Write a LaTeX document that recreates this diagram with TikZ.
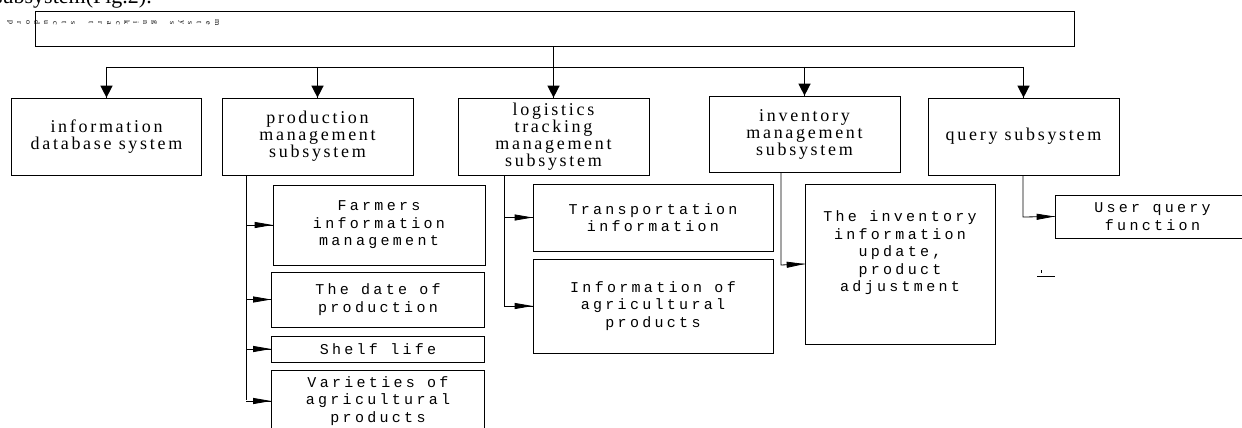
\documentclass[tikz,border=0pt]{standalone}
\usepackage{fontspec}
\setmainfont{Liberation Serif}
\newfontfamily\boxserif[LetterSpace=15]{Liberation Serif}
\newfontfamily\boxmono[LetterSpace=22]{Liberation Mono}
\usetikzlibrary{arrows.meta,decorations.markings}

\begin{document}
\begin{tikzpicture}[x=1pt, y=-1pt,
  unit/.style={draw, line width=0.7pt, inner sep=0pt, align=center, font=\boxserif\fontsize{18}{17}\selectfont},
  leaf/.style={draw, line width=0.7pt, inner sep=0pt, align=center, font=\boxmono\fontsize{15}{17.5}\selectfont},
  down/.style={line width=1.4pt, decoration={markings,mark=at position 1 with {\arrow{Triangle[length=12pt,width=12pt]}}}, postaction={decorate}},
  side/.style={line width=0.8pt, decoration={markings,mark=at position 1 with {\arrow{Triangle[length=18pt,width=6pt]}}}, postaction={decorate}}]
\useasboundingbox (0,0) rectangle (1242,428);
\clip (0,0) rectangle (1242,428);

\node[anchor=base east, inner sep=0pt, font=\fontsize{22}{24}\selectfont] (caption) at (152,4) {subsystem(Fig.2).};

% top box and its tiny turned label
\node[draw, line width=0.7pt, minimum width=1039pt, minimum height=35pt] (sys) at (554.5,28.5) {};
\foreach \ch [count=\i] in {p,r,o,d,u,c,t,s,{},t,r,a,c,k,i,n,g,{},s,y,s,t,e,m,{},{}}
  \node[rotate=-90, inner sep=0pt, font=\fontsize{8}{8}\selectfont] (g\i) at (\i*9+1,23) {\ch};

% subsystems
\node[unit, minimum width=190pt, minimum height=77pt] (db) at (106.5,136.5) {information\\database system};
\node[unit, minimum width=191pt, minimum height=77pt] (prod) at (317.5,136.5) {production\\management\\subsystem};
\node[unit, minimum width=191pt, minimum height=77pt] (logi) at (553.5,136.5) {logistics\\tracking\\management\\subsystem};
\node[unit, minimum width=191pt, minimum height=76pt] (inv) at (804.5,134) {inventory\\management\\subsystem};
\node[unit, minimum width=191pt, minimum height=77pt] (query) at (1023.5,136.5) {query subsystem};

\coordinate (busL) at (107,67);
\coordinate (busR) at (1024,67);
\draw[line width=0.8pt] (busL) -- (busR);
\draw[down] (sys.south -| logi) -- (logi.north);
\foreach \n in {db,prod,inv,query}
  \draw[down] (busL -| \n) -- (\n.north);

% production
\node[leaf, minimum width=212pt, minimum height=80pt] (farm) at (379,225) {Farmers\\information\\management};
\node[leaf, minimum width=213pt, minimum height=55pt] (date) at (378,299.5) {The date of\\production};
\node[leaf, minimum width=213pt, minimum height=26pt] (shelf) at (378,349) {Shelf life};
\node[leaf, minimum width=213pt, minimum height=62pt] (kind) at (378,401) {Varieties of\\agricultural\\products};
\coordinate (prodT) at (246,400);
\draw[line width=0.8pt] (prod.south -| prodT) -- (prodT);
\foreach \n in {farm,date,shelf,kind}
  \draw[side] (\n.west -| prodT) -- (\n.west);

% logistics
\node[leaf, minimum width=240pt, minimum height=67pt] (trans) at (653,217.5) {Transportation\\information};
\node[leaf, minimum width=240pt, minimum height=94pt] (goods) at (653,306) {Information of\\agricultural\\products};
\coordinate (logiT) at (504,306);
\draw[line width=0.8pt] (logi.south -| logiT) -- (logiT);
\draw[side] (trans.west -| logiT) -- (trans.west);
\draw[side] (logiT) -- (goods.west);

% inventory
\node[leaf, minimum width=190pt, minimum height=160pt] (stock) at (900,264) {};
\node[leaf, draw=none] (stockT) at (900,253) {The inventory\\information\\update,\\product\\adjustment};
\coordinate (invT) at (781,265);
\draw[side] (inv.south -| invT) -- (invT) -- (stock.west);

% query
\node[leaf, minimum width=195pt, minimum height=43pt] (user) at (1152.5,216.5) {User query\\function};
\coordinate (queryT) at (1023,217);
\draw[side] (query.south -| queryT) -- (queryT) -- (user.west);

\draw[line width=0.6pt] (1037,276) -- (1055,276);
\draw[line width=0.6pt] (1041,270) -- (1041,273);
\end{tikzpicture}
\end{document}
